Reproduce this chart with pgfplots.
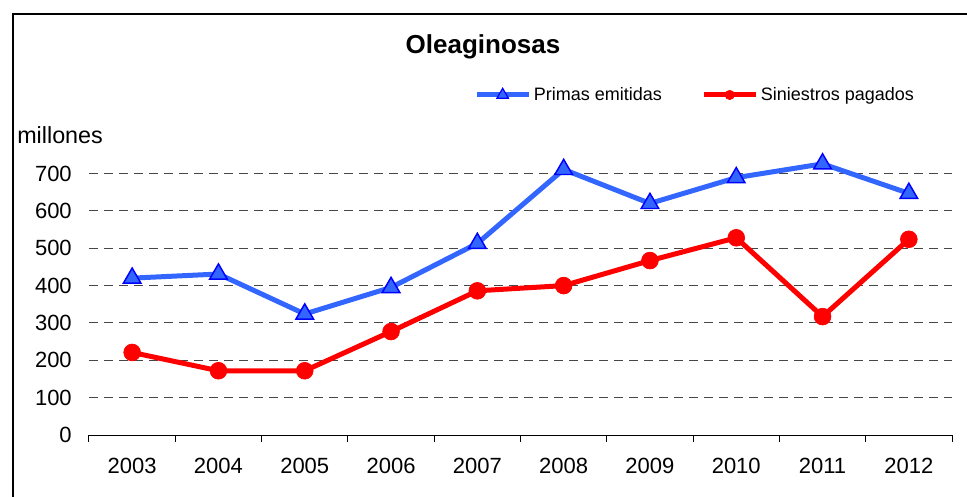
\documentclass[border=0pt]{standalone}
\usepackage{fontspec}
\setmainfont{Liberation Sans}
\usepackage{pgfplots}
\pgfplotsset{compat=1.18}
\definecolor{pblue}{HTML}{3366FF}
\definecolor{pedge}{HTML}{0000FF}
\definecolor{sred}{HTML}{FF0000}
\begin{document}
\begin{tikzpicture}
\useasboundingbox (0,0) rectangle (725.25pt,372pt);
\draw[line width=1.1pt] (9.75pt,-1pt) -- (9.75pt,361.5pt) -- (727pt,361.5pt);
\begin{axis}[
  at={(66.75pt,45.75pt)}, anchor=south west,
  scale only axis, width=647.25pt, height=224.1pt,
  xmin=-0.5, xmax=9.5, ymin=0, ymax=800,
  clip=false,
  axis lines*=left,
  y axis line style={draw=none},
  x axis line style={line width=0.75pt, black},
  /pgf/number format/assume math mode=true,
  xtick={-0.5,0.5,...,9.5}, xticklabels={},
  extra x ticks={0,1,...,9},
  extra x tick labels={2003,2004,2005,2006,2007,2008,2009,2010,2011,2012},
  extra x tick style={major tick length=0pt, tick style={draw=none}},
  tick align=outside,
  major tick length=5.25pt,
  xtick style={line width=0.75pt, black},
  ytick={100,200,...,700},
  extra y ticks={0},
  extra y tick style={grid=none},
  ytick style={draw=none},
  ymajorgrids,
  grid style={line width=0.8pt, gray!55!black, dash pattern=on 6.75pt off 4.5pt},
  tick label style={font=\fontsize{16.5pt}{18pt}\selectfont, inner sep=0pt},
  yticklabel style={anchor=east, xshift=-7.5pt},
  xticklabel style={anchor=north, yshift=-17.25pt},
  legend style={at={(axis description cs:0.446,1.138)}, anchor=west, draw=none, fill=none,
    font=\fontsize{13.5pt}{15pt}\selectfont, legend columns=2,
    /tikz/every even column/.append style={column sep=27.5pt}, inner sep=0pt},
  legend cell align=left,
  legend image code/.code={\draw[mark repeat=2,mark phase=2] plot coordinates {(0pt,0pt) (19.5pt,0pt) (39pt,0pt)};},
]
\addlegendimage{pblue, line width=3.75pt, mark=triangle*, mark size=5pt, mark options={fill=pblue, draw=pedge, line width=0.9pt}}
\addlegendentry{Primas emitidas}
\addlegendimage{sred, line width=3.75pt, mark=*, mark size=3.5pt, mark options={fill=sred, draw=sred, line width=0.5pt}}
\addlegendentry{Siniestros pagados}
\addplot[forget plot, pblue, line width=3.75pt, mark=triangle*, mark size=7.6pt, mark options={fill=pblue, draw=pedge, line width=1.1pt}]
  coordinates {(0,420) (1,431) (2,324) (3,395) (4,513) (5,711) (6,620) (7,689) (8,726) (9,647)};
\addplot[forget plot, sred, line width=3.75pt, mark=*, mark size=6.3pt, mark options={fill=sred, draw=sred, line width=0.5pt}]
  coordinates {(0,221) (1,172) (2,172) (3,277) (4,386) (5,400) (6,467) (7,528) (8,317) (9,524)};
\node[anchor=west, inner sep=0pt, font=\fontsize{17.5pt}{20pt}\selectfont] at (axis description cs:-0.0834,1.004) {millones};
\node[anchor=center, inner sep=0pt, font=\bfseries\fontsize{19.5pt}{22pt}\selectfont] at (axis description cs:0.4566,1.2985) {Oleaginosas};
\end{axis}
\end{tikzpicture}
\end{document}
